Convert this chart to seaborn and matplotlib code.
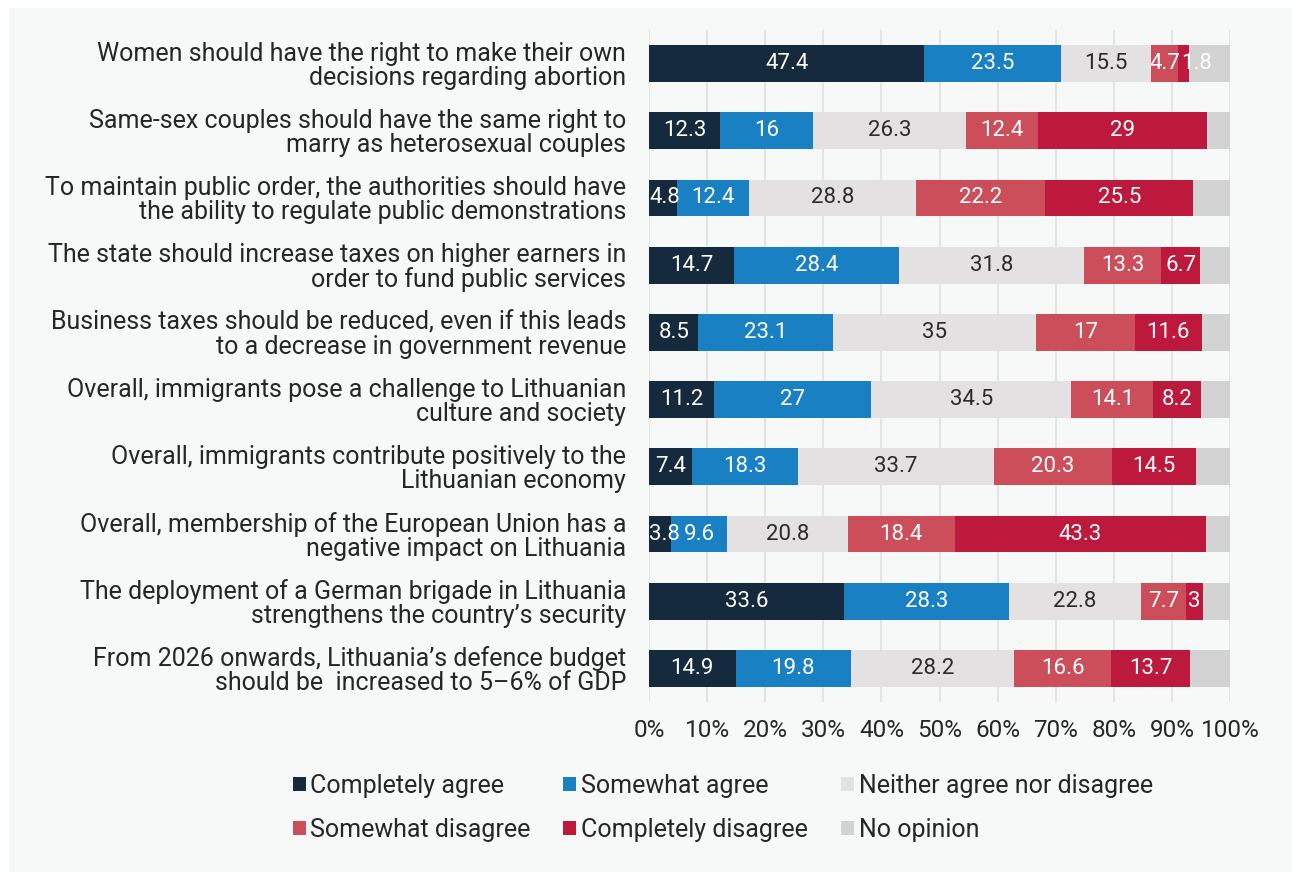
import numpy as np
import pandas as pd
import seaborn as sns
import matplotlib.pyplot as plt
from matplotlib.patches import Patch, Rectangle

# Survey statements (top to bottom)
statements = [
    "Women should have the right to make their own\ndecisions regarding abortion",
    "Same-sex couples should have the same right to\nmarry as heterosexual couples",
    "To maintain public order, the authorities should have\nthe ability to regulate public demonstrations",
    "The state should increase taxes on higher earners in\norder to fund public services",
    "Business taxes should be reduced, even if this leads\nto a decrease in government revenue",
    "Overall, immigrants pose a challenge to Lithuanian\nculture and society",
    "Overall, immigrants contribute positively to the\nLithuanian economy",
    "Overall, membership of the European Union has a\nnegative impact on Lithuania",
    "The deployment of a German brigade in Lithuania\nstrengthens the country\u2019s security",
    "From 2026 onwards, Lithuania\u2019s defence budget\nshould be  increased to 5\u20136% of GDP",
]

responses = ["Completely agree", "Somewhat agree", "Neither agree nor disagree",
             "Somewhat disagree", "Completely disagree", "No opinion"]

completely_agree = [47.4, 12.3, 4.8, 14.7, 8.5, 11.2, 7.4, 3.8, 33.6, 14.9]
somewhat_agree = [23.5, 16.0, 12.4, 28.4, 23.1, 27.0, 18.3, 9.6, 28.3, 19.8]
neither = [15.5, 26.3, 28.8, 31.8, 35.0, 34.5, 33.7, 20.8, 22.8, 28.2]
somewhat_disagree = [4.7, 12.4, 22.2, 13.3, 17.0, 14.1, 20.3, 18.4, 7.7, 16.6]
completely_disagree = [1.8, 29.0, 25.5, 6.7, 11.6, 8.2, 14.5, 43.3, 3.0, 13.7]
no_opinion = [7.1, 4.0, 6.3, 5.1, 4.8, 5.0, 5.8, 4.1, 4.6, 6.8]

colors = ["#152a3c", "#1a80c4", "#e3e1e2", "#cc4e5a", "#bd193d", "#d3d3d3"]
label_colors = ["white", "white", "#2b2b2b", "white", "white", None]

series = [completely_agree, somewhat_agree, neither,
          somewhat_disagree, completely_disagree, no_opinion]

sns.set_theme(style="whitegrid")
plt.rcParams["font.family"] = ["Roboto", "DejaVu Sans"]

BG = "#f7f8f8"
TEXT = "#262626"

fig = plt.figure(figsize=(12.92, 8.72), dpi=100, facecolor="white")
fig.patches.append(Rectangle((9 / 1292, 0), 1, 1 - 8 / 872, transform=fig.transFigure,
                             facecolor=BG, edgecolor="none", zorder=-10))
ax = fig.add_axes([649 / 1292, 1 - 702 / 872, 581 / 1292, 672 / 872])
ax.set_facecolor(BG)

df = pd.DataFrame({r: s for r, s in zip(responses, series)})
df["statement"] = statements
values = df[responses].to_numpy()
cum = np.cumsum(values, axis=1)

# Stacked bars: draw cumulative totals from the widest down so each layer shows its segment
for j in range(len(responses) - 1, -1, -1):
    sns.barplot(x=cum[:, j], y=df["statement"], orient="h", color=colors[j],
                saturation=1, width=0.55, linewidth=0, ax=ax, zorder=2)

ax.set_xlim(0, 100)
ax.set_ylim(len(statements) - 0.5, -0.5)

# Value labels centred in each segment
row_labels = [[] for _ in statements]
for j, r in enumerate(responses):
    if label_colors[j] is None:
        continue
    starts = cum[:, j] - values[:, j]
    for i, v in enumerate(values[:, j]):
        t = ax.text(starts[i] + v / 2, i, f"{v:g}", ha="center", va="center",
                    fontsize=16, color=label_colors[j], zorder=3)
        row_labels[i].append(t)

# Nudge labels of narrow segments so they stay inside the bar and do not collide
fig.canvas.draw()
renderer = fig.canvas.get_renderer()
inv = ax.transData.inverted()
x_left_px = ax.transData.transform((0, 0))[0]
for labels in row_labels:
    prev_right = x_left_px - 1
    for t in labels:
        bb = t.get_window_extent(renderer)
        shift = max(0.0, prev_right + 1 - bb.x0)
        if shift > 0:
            x_px, y_px = ax.transData.transform(t.get_position())
            t.set_x(inv.transform((x_px + shift, y_px))[0])
        prev_right = bb.x1 + shift

ax.set_xticks(np.arange(0, 101, 10))
ax.set_xticklabels([f"{t}%" for t in range(0, 101, 10)])
ax.set_xlabel("")
ax.set_ylabel("")
ax.grid(axis="x", color="#e4e4e4", linewidth=1.5, zorder=0)
ax.grid(axis="y", visible=False)
ax.set_axisbelow(True)
for s in ax.spines.values():
    s.set_visible(False)
ax.tick_params(axis="x", length=0, pad=12.5, labelsize=17.5, labelcolor=TEXT)
ax.tick_params(axis="y", length=0, pad=16.5, labelsize=18, labelcolor=TEXT)
for lbl in ax.get_yticklabels():
    lbl.set_linespacing(1.0)

# Legend filled row by row: three entries per row
handles = [Patch(facecolor=c, edgecolor="none", label=r) for r, c in zip(responses, colors)]
order = [0, 3, 1, 4, 2, 5]
fig.legend(handles=[handles[k] for k in order], ncol=3, loc="center left",
           bbox_to_anchor=(270 / 1292, 1 - 808 / 872), frameon=False,
           fontsize=18, handlelength=0.52, handleheight=0.52, handletextpad=0.2,
           columnspacing=1.3, labelspacing=0.8, labelcolor=TEXT)

fig.savefig("out.png", dpi=100, facecolor="white")
